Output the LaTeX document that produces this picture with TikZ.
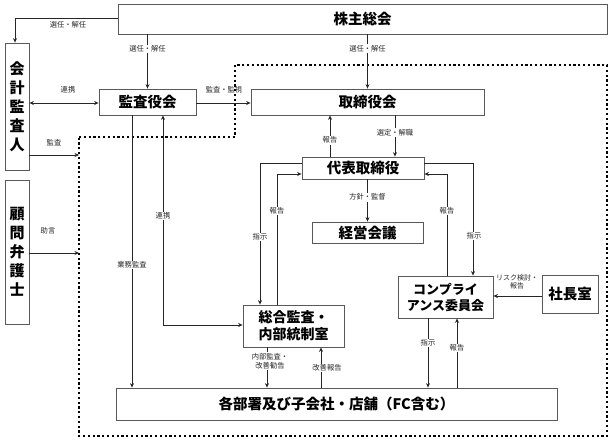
\documentclass[tikz,border=0pt]{standalone}
\usepackage{fontspec}
\setmainfont{Noto Sans CJK JP}
\usetikzlibrary{arrows.meta}
\begin{document}
\begin{tikzpicture}[x=1pt,y=-1pt,
  >={Stealth[length=4.5pt,width=4pt]},
  box/.style={draw=black!65,line width=0.8pt,inner sep=0pt,align=center,font=\fontsize{14.5}{17}\selectfont\bfseries},
  vbox/.style={box,font=\fontsize{15}{19}\selectfont\bfseries},
  conn/.style={draw=black!85,line width=0.8pt},
  lbl/.style={font=\fontsize{7.3}{9}\selectfont,text=black!85,inner sep=1pt,align=center},
  lblw/.style={lbl,fill=white},
  bound/.style={line width=2.2pt,dash pattern=on 2.2pt off 2.6pt}]
\useasboundingbox (0,0) rectangle (613,441);

% boxes
\node[box,minimum width=489,minimum height=30] (kabu) at (362.5,19) {株主総会};
\node[vbox,minimum width=24,minimum height=127] (kaikei) at (17,106.5) {会\\計\\監\\査\\人};
\node[vbox,minimum width=24,minimum height=144] (komon) at (17,252) {顧\\問\\弁\\護\\士};
\node[box,minimum width=97,minimum height=26] (kansa) at (147.5,102) {監査役会};
\node[box,minimum width=233,minimum height=26] (tori) at (367.5,102) {取締役会};
\node[box,minimum width=122,minimum height=22] (daihyo) at (363,168) {代表取締役};
\node[box,minimum width=111,minimum height=21] (keiei) at (367.5,232.5) {経営会議};
\node[box,minimum width=95,minimum height=42,font=\fontsize{13}{16}\selectfont\bfseries] (comp) at (445.5,297) {コンプライ\\アンス委員会};
\node[box,minimum width=56,minimum height=38] (shacho) at (570,294) {社長室};
\node[box,minimum width=101,minimum height=42,font=\fontsize{14}{17}\selectfont\bfseries] (sogo) at (293.5,326) {総合監査・\\内部統制室};
\node[box,minimum width=441,minimum height=32] (kakubu) at (336.5,404) {各部署及び子会社・店舗（FC含む）};

% dotted boundary
\draw[bound] (79,137) -- (235,137) -- (235,65) -- (607,65) -- (607,436) -- (79,436) -- cycle;
\coordinate (b1) at (79,155);
\coordinate (b2) at (79,253);

% connectors
\draw[conn,->] (kabu.west |- 0,18) -| ([xshift=-2]kaikei.north);
\node[lbl] at (68,25) {選任・解任};

\draw[conn,->] (kabu.south -| kansa.north) -- (kansa.north)
  node[lblw,pos=0.27] {選任・解任};
\draw[conn,->] (kabu.south -| tori.north) -- (tori.north)
  node[lblw,pos=0.26] {選任・解任};

\draw[conn,<->] (kaikei.east |- 0,103) -- (kansa.west |- 0,103);
\node[lbl] at (68,90) {連携};
\draw[conn,->] (kansa.east |- 0,103) -- (tori.west |- 0,103);
\node[lbl] at (224,90) {監査・監視};

\draw[conn,->] (kaikei.east |- b1) -- (b1);
\node[lbl] at (54,143) {監査};
\draw[conn,->] (komon.east |- b2) -- (b2);
\node[lbl] at (48,231) {助言};

\draw[conn,->] (kansa.south -| 132,0) -- (kakubu.north -| 132,0)
  node[lblw,pos=0.55] {業務監査};
\draw[conn,<->] (kansa.south -| 163,0) |- (sogo.west |- 0,325);
\node[lblw] at (163,216) {連携};

\draw[conn,->] (daihyo.north -| 330,0) -- (tori.south -| 330,0)
  node[lblw,pos=0.4] {報告};
\draw[conn,->] (tori.south -| 395,0) -- (daihyo.north -| 395,0)
  node[lblw,pos=0.42] {選定・解職};
\draw[conn,->] (daihyo.south -| keiei.north) -- (keiei.north)
  node[lblw,pos=0.42] {方針・監督};

\draw[conn,->] (daihyo.east |- 0,163) -| (comp.north -| 473,0);
\node[lblw] at (474,236) {指示};
\draw[conn,->] (comp.north -| 447,0) |- (daihyo.east |- 0,174);
\node[lblw] at (447,211) {報告};
\draw[conn,->] (sogo.north -| 277,0) |- (daihyo.west |- 0,174);
\node[lblw] at (277,211) {報告};
\draw[conn,->] (daihyo.west |- 0,163) -| (sogo.north -| 260,0);
\node[lblw] at (260,237) {指示};

\draw[conn,->] (sogo.south -| 267,0) -- (kakubu.north -| 267,0);
\node[lblw] at (270,361) {内部監査・\\改善勧告};
\draw[conn,->] (kakubu.north -| 321,0) -- (sogo.south -| 321,0);
\node[lblw] at (327,368) {改善報告};

\draw[conn,->] (comp.south -| 428,0) -- (kakubu.north -| 428,0);
\node[lblw] at (428,343) {指示};
\draw[conn,->] (kakubu.north -| 457,0) -- (comp.south -| 457,0);
\node[lblw] at (457,348) {報告};

\draw[conn,->] (shacho.west |- 0,296) -- (comp.east |- 0,296);
\node[lbl,font=\fontsize{7}{8.5}\selectfont] at (517,282) {リスク検討・\\報告};
\end{tikzpicture}
\end{document}
